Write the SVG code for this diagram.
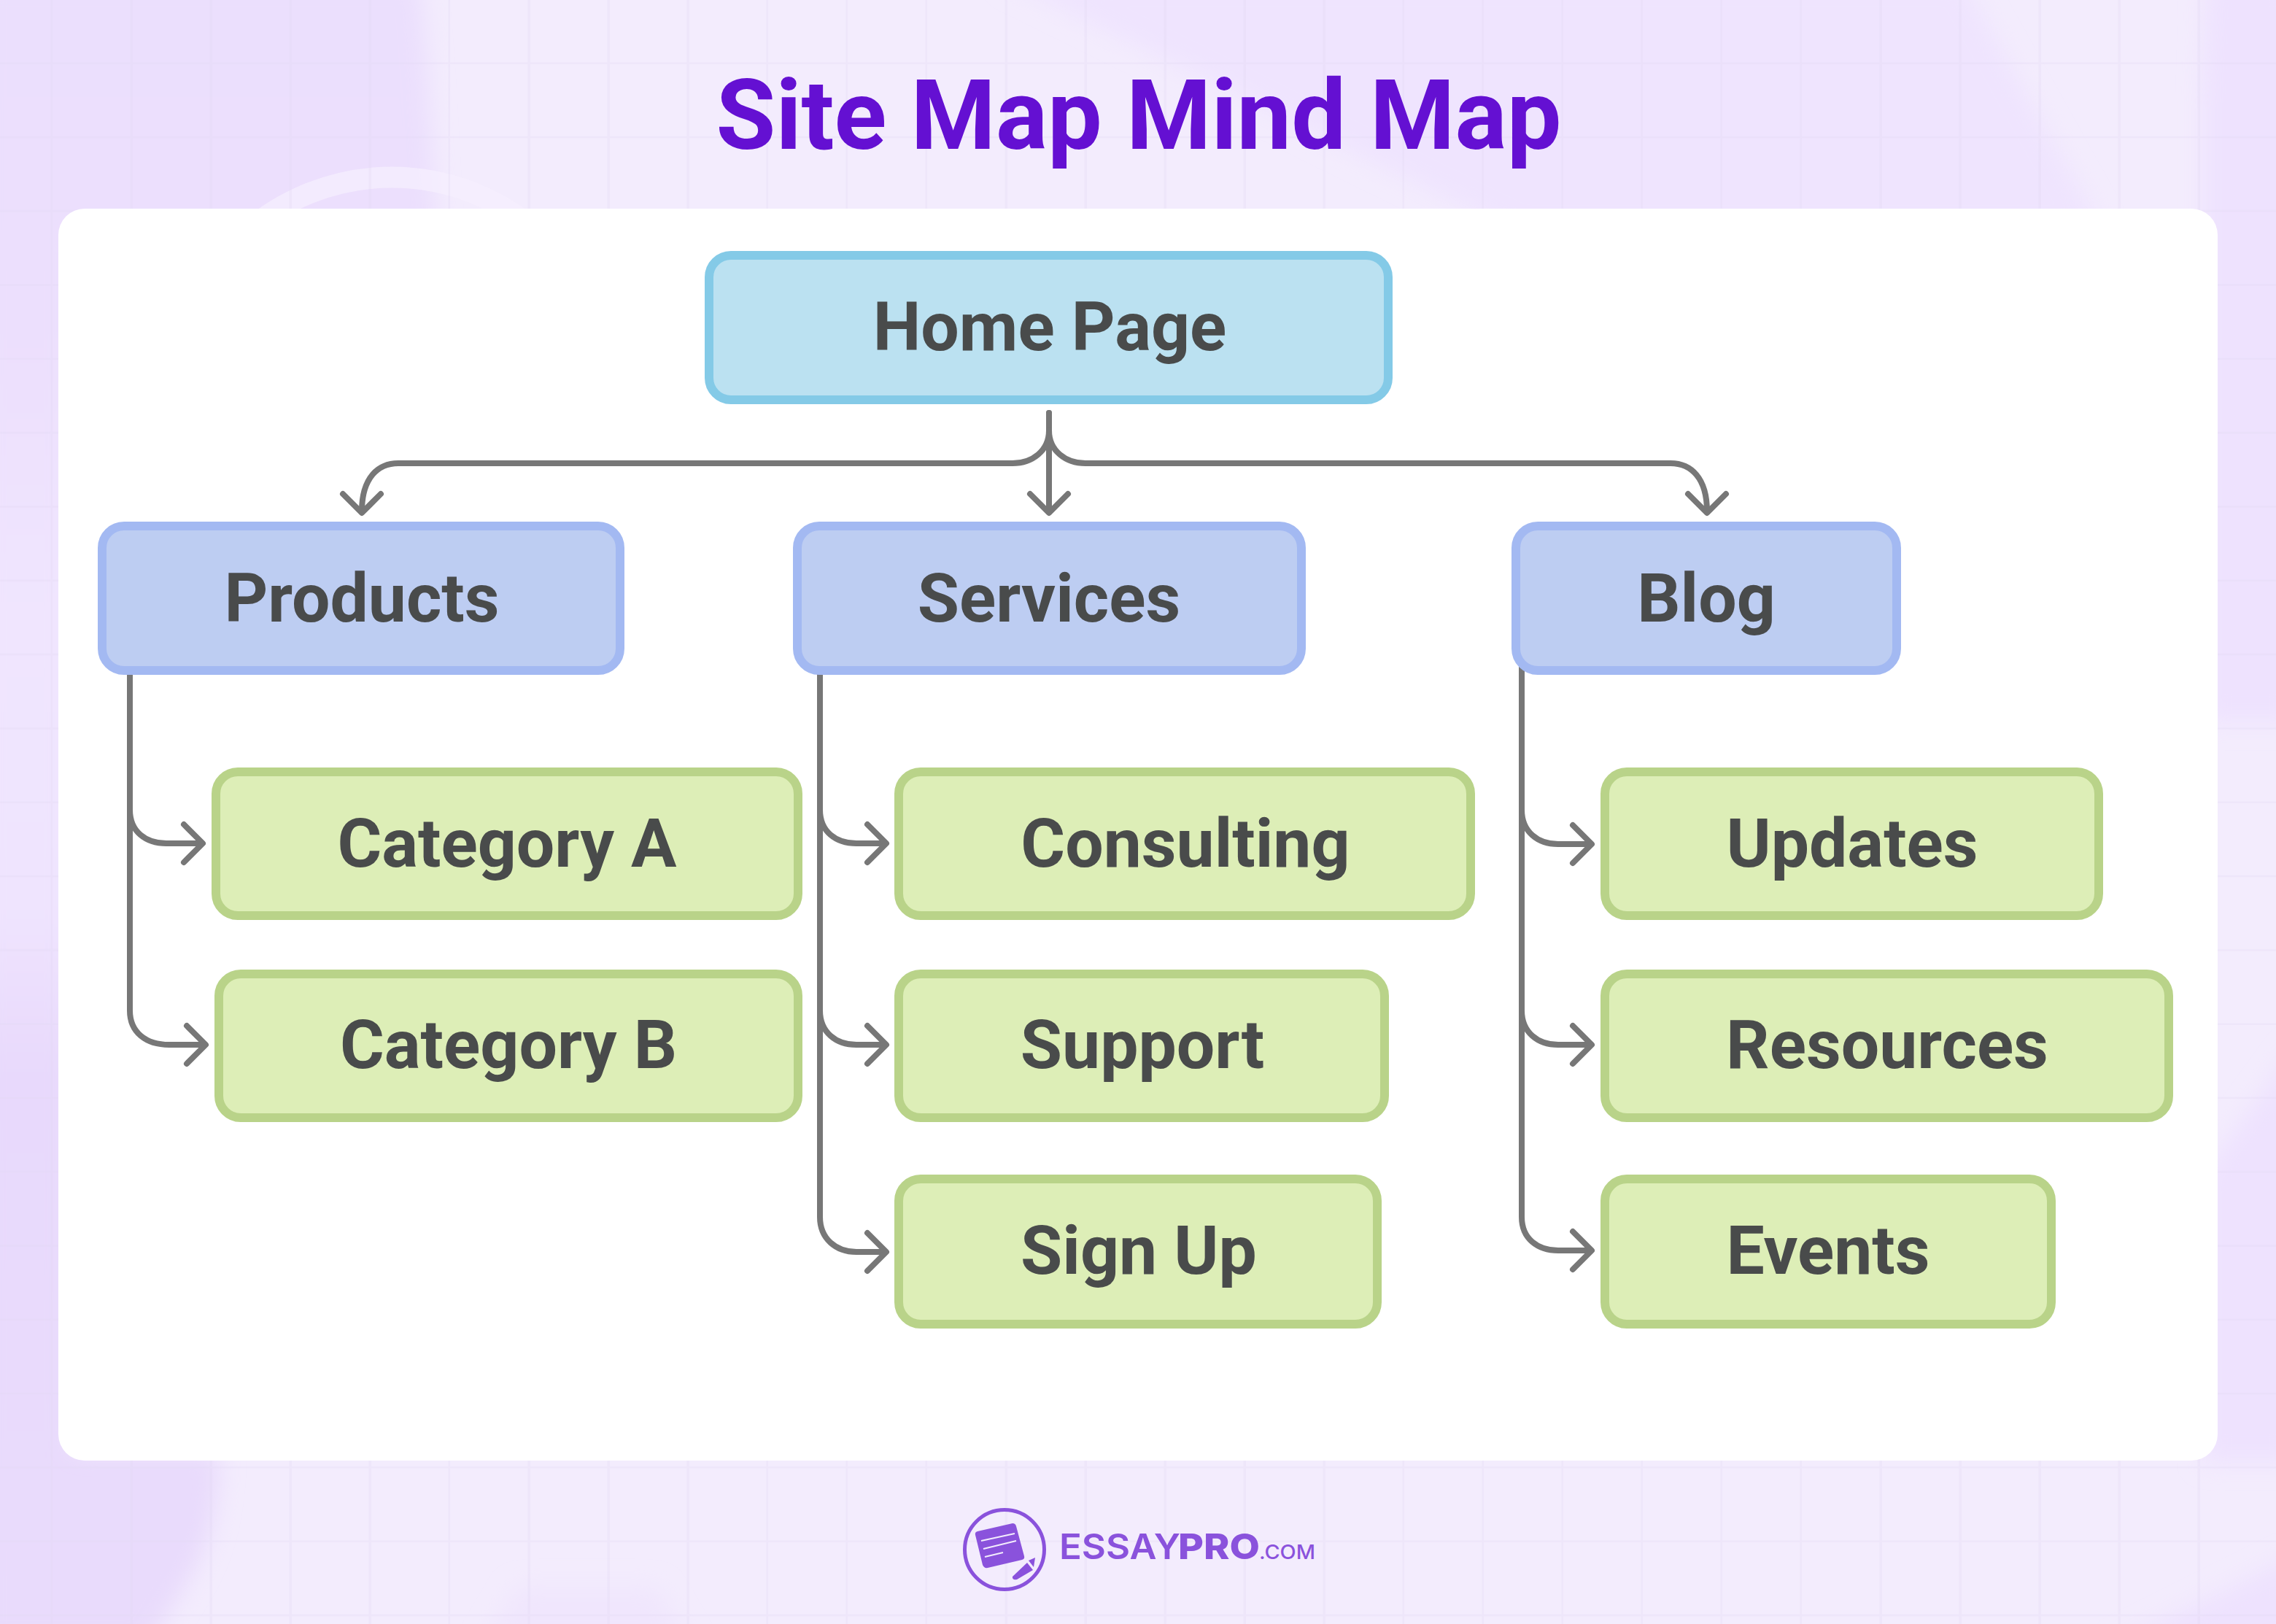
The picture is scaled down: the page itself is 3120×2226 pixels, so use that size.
<svg xmlns="http://www.w3.org/2000/svg" width="3120" height="2226" viewBox="0 0 3120 2226">
<defs>
<style>
.lbl{font-family:Roboto,"Liberation Sans",sans-serif;font-weight:700;font-size:93px;fill:#494b4b;text-anchor:middle}
.hm{fill:#bbe1f1;stroke:#84cae7;stroke-width:12}
.bl{fill:#bdcdf2;stroke:#a3b9f2;stroke-width:12}
.gr{fill:#ddeeb7;stroke:#b9d389;stroke-width:12}
.c{fill:none;stroke:#777;stroke-width:8;stroke-linecap:round;stroke-linejoin:round}
.lg{font-family:Inter,"Liberation Sans",sans-serif;fill:#8a52dc}
</style>
<pattern id="grid" width="109" height="101.300" patternUnits="userSpaceOnUse" x="72" y="-13.300">
<path d="M109 0V101.300M0 101.300H109" fill="none" stroke="#e4d8f4" stroke-width="5" opacity=".3"/>
</pattern>
<linearGradient id="leftG" gradientUnits="userSpaceOnUse" x1="0" x2="0" y1="0" y2="2226">
<stop offset="0" stop-color="#ebdffd"/><stop offset=".2" stop-color="#ecdffd"/><stop offset=".38" stop-color="#f0e5fe"/><stop offset=".56" stop-color="#efe4fe"/><stop offset=".66" stop-color="#e8d9fc"/><stop offset="1" stop-color="#e9dbfc"/>
</linearGradient>
<filter id="soft" x="-10%" y="-10%" width="120%" height="120%"><feGaussianBlur stdDeviation="16"/></filter>
</defs>
<g id="background">
<rect width="3120" height="2226" fill="#f3ecfd"/>
<g filter="url(#soft)">
<path d="M-30 -30H575C590 100 590 200 600 320H100V1990H300C300 2060 290 2120 250 2180L200 2260H-30Z" fill="url(#leftG)"/>
<path d="M1370 -30H2690L2885 320H2080Z" fill="#efe4fe"/>
<path d="M3025 -30H3150V990H3020V140Z" fill="#eee2fe"/>
<path d="M3020 1610L3150 1430V2005H3020Z" fill="#eee2fe"/>
<path d="M2890 2260L3150 2130V2260Z" fill="#eee2fe"/>
<path d="M660 2260L710 2175H900L950 2260Z" fill="#f0e6fd"/>
</g>
<circle cx="537" cy="546" r="303" fill="none" stroke="#f5effe" stroke-width="29" opacity=".75"/>
<rect width="3120" height="2226" fill="url(#grid)"/>
</g>
<rect id="card" x="80" y="286" width="2960" height="1716" rx="36" fill="#fff"/>
<text id="title" x="1561" y="204" font-family="Roboto,'Liberation Sans',sans-serif" font-weight="700" font-size="133" fill="#6410d2" text-anchor="middle">Site Map Mind Map</text>
<g id="connectors">
<path class="c" d="M1438 566V590C1438 618 1415 635 1388 635H546C518 635 496 655 496 701"/>
<path class="c" d="M470 677L496 703L522 677"/>
<path class="c" d="M1438 566V590C1438 618 1461 635 1488 635H2290C2318 635 2340 655 2340 701"/>
<path class="c" d="M2314 677L2340 703L2366 677"/>
<path class="c" d="M1438 590V701"/>
<path class="c" d="M1412 677L1438 703L1464 677"/>
<path class="c" d="M178 925V1110C178 1140 200 1156 228 1156H276"/>
<path class="c" d="M252 1130L278 1156L252 1182"/>
<path class="c" d="M178 925V1385C178 1415 200 1432 232 1432H280"/>
<path class="c" d="M256 1406L282 1432L256 1458"/>
<path class="c" d="M1124 925V1110C1124 1140 1146 1156 1174 1156H1213"/>
<path class="c" d="M1189 1130L1215 1156L1189 1182"/>
<path class="c" d="M1124 925V1385C1124 1415 1146 1432 1174 1432H1213"/>
<path class="c" d="M1189 1406L1215 1432L1189 1458"/>
<path class="c" d="M1124 925V1668C1124 1698 1146 1716 1174 1716H1213"/>
<path class="c" d="M1189 1690L1215 1716L1189 1742"/>
<path class="c" d="M2086 915V1110C2086 1140 2108 1157 2136 1157H2180"/>
<path class="c" d="M2156 1131L2182 1157L2156 1183"/>
<path class="c" d="M2086 915V1385C2086 1415 2108 1432 2136 1432H2180"/>
<path class="c" d="M2156 1406L2182 1432L2156 1458"/>
<path class="c" d="M2086 915V1668C2086 1698 2108 1714 2136 1714H2180"/>
<path class="c" d="M2156 1688L2182 1714L2156 1740"/>
</g>
<g id="node-home"><rect class="hm" x="972" y="350" width="931" height="198" rx="30"/><text class="lbl" x="1439" y="480">Home Page</text></g>
<g id="node-products"><rect class="bl" x="140" y="721" width="710" height="198" rx="30"/><text class="lbl" x="496" y="852">Products</text></g>
<g id="node-services"><rect class="bl" x="1093" y="721" width="691" height="198" rx="30"/><text class="lbl" x="1438" y="852">Services</text></g>
<g id="node-blog"><rect class="bl" x="2078" y="721" width="522" height="198" rx="30"/><text class="lbl" x="2339" y="852">Blog</text></g>
<g id="node-category-a"><rect class="gr" x="296" y="1058" width="798" height="197" rx="30"/><text class="lbl" x="695" y="1188">Category A</text></g>
<g id="node-category-b"><rect class="gr" x="300" y="1335" width="794" height="197" rx="30"/><text class="lbl" x="697" y="1464">Category B</text></g>
<g id="node-consulting"><rect class="gr" x="1232" y="1058" width="784" height="197" rx="30"/><text class="lbl" x="1625" y="1188">Consulting</text></g>
<g id="node-support"><rect class="gr" x="1232" y="1335" width="666" height="197" rx="30"/><text class="lbl" x="1566" y="1464">Support</text></g>
<g id="node-signup"><rect class="gr" x="1232" y="1616" width="656" height="199" rx="30"/><text class="lbl" x="1561" y="1746">Sign Up</text></g>
<g id="node-updates"><rect class="gr" x="2200" y="1058" width="677" height="197" rx="30"/><text class="lbl" x="2539" y="1188">Updates</text></g>
<g id="node-resources"><rect class="gr" x="2200" y="1335" width="773" height="197" rx="30"/><text class="lbl" x="2587" y="1464">Resources</text></g>
<g id="node-events"><rect class="gr" x="2200" y="1616" width="612" height="199" rx="30"/><text class="lbl" x="2506" y="1746">Events</text></g>
<g id="logo">
<circle cx="1377" cy="2124" r="54.500" fill="none" stroke="#8a52dc" stroke-width="5"/>
<path d="M1340 2099L1388 2088Q1392 2088 1393 2092L1404 2133Q1405 2137 1401 2138L1354 2149Q1349 2150 1347 2145L1337 2104Q1336 2100 1340 2099Z" fill="#8a52dc"/>
<path d="M1345 2112L1391 2102M1348 2123L1393 2112M1350 2134L1375 2128" stroke="#f3ecfd" stroke-width="2" fill="none"/>
<path d="M1388 2161L1408 2142L1416 2152L1394 2165Q1387 2166 1388 2161Z" fill="#8a52dc"/>
<path d="M1410 2139L1419 2135L1417 2148Z" fill="#8a52dc"/>
<text class="lg" x="1452" y="2137" font-size="48" font-weight="600" textLength="166" lengthAdjust="spacingAndGlyphs">ESSAY</text>
<text class="lg" x="1615" y="2137" font-size="48" font-weight="800" textLength="112" lengthAdjust="spacingAndGlyphs">PRO</text>
<text class="lg" x="1726" y="2137" font-size="27" font-weight="500" textLength="77" lengthAdjust="spacingAndGlyphs">.COM</text>
</g>
</svg>
